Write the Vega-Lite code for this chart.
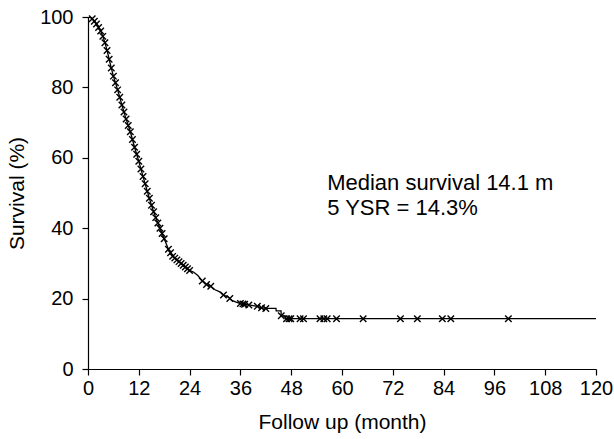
{
  "$schema": "https://vega.github.io/schema/vega-lite/v6.json",
  "autosize": "none",
  "width": 508,
  "height": 352,
  "padding": {"left": 88, "top": 17, "right": 18, "bottom": 70},
  "background": "white",
  "config": {
    "view": {"stroke": null},
    "font": "Liberation Sans",
    "axis": {
      "grid": false,
      "domainColor": "black",
      "tickColor": "black",
      "domainWidth": 1.2,
      "tickWidth": 1.2,
      "tickSize": 6,
      "labelColor": "black",
      "titleColor": "black",
      "labelFont": "Liberation Sans",
      "titleFont": "Liberation Sans",
      "labelFontSize": 20,
      "titleFontSize": 21,
      "titleFontWeight": "normal"
    }
  },
  "datasets": {
    "km": [
      {"month": 0, "survival": 100, "censored": 0},
      {"month": 0.7, "survival": 99.8, "censored": 0},
      {"month": 1, "survival": 99.5, "censored": 1},
      {"month": 1.5, "survival": 98.8, "censored": 1},
      {"month": 2, "survival": 98, "censored": 1},
      {"month": 2.5, "survival": 97, "censored": 1},
      {"month": 3, "survival": 96, "censored": 1},
      {"month": 3.5, "survival": 94.5, "censored": 1},
      {"month": 4, "survival": 92.7, "censored": 1},
      {"month": 4.5, "survival": 90.5, "censored": 1},
      {"month": 5, "survival": 88, "censored": 1},
      {"month": 5.5, "survival": 85.5, "censored": 1},
      {"month": 6, "survival": 83.2, "censored": 1},
      {"month": 6.5, "survival": 81.3, "censored": 1},
      {"month": 7, "survival": 79.3, "censored": 1},
      {"month": 7.5, "survival": 77.2, "censored": 1},
      {"month": 8, "survival": 75, "censored": 1},
      {"month": 8.5, "survival": 73, "censored": 1},
      {"month": 9, "survival": 71, "censored": 1},
      {"month": 9.5, "survival": 69.2, "censored": 1},
      {"month": 10, "survival": 67.4, "censored": 1},
      {"month": 10.5, "survival": 65.2, "censored": 1},
      {"month": 11, "survival": 63, "censored": 1},
      {"month": 11.5, "survival": 61, "censored": 1},
      {"month": 12, "survival": 59, "censored": 1},
      {"month": 12.5, "survival": 56.8, "censored": 1},
      {"month": 13, "survival": 54.7, "censored": 1},
      {"month": 13.5, "survival": 52.6, "censored": 1},
      {"month": 14, "survival": 50.5, "censored": 1},
      {"month": 14.5, "survival": 48.5, "censored": 1},
      {"month": 15, "survival": 46.5, "censored": 1},
      {"month": 15.5, "survival": 44.7, "censored": 1},
      {"month": 16, "survival": 43, "censored": 1},
      {"month": 16.5, "survival": 41.5, "censored": 1},
      {"month": 17, "survival": 40, "censored": 1},
      {"month": 17.5, "survival": 38.5, "censored": 1},
      {"month": 18, "survival": 37, "censored": 1},
      {"month": 18.5, "survival": 35.5, "censored": 0},
      {"month": 19, "survival": 34, "censored": 1},
      {"month": 19.5, "survival": 33, "censored": 1},
      {"month": 20, "survival": 32, "censored": 1},
      {"month": 20.5, "survival": 31.5, "censored": 1},
      {"month": 21, "survival": 31, "censored": 1},
      {"month": 21.5, "survival": 30.5, "censored": 1},
      {"month": 22, "survival": 30, "censored": 1},
      {"month": 22.5, "survival": 29.5, "censored": 1},
      {"month": 23, "survival": 29, "censored": 1},
      {"month": 23.5, "survival": 28.5, "censored": 1},
      {"month": 24, "survival": 28, "censored": 1},
      {"month": 25, "survival": 27.5, "censored": 0},
      {"month": 26, "survival": 26.5, "censored": 0},
      {"month": 27, "survival": 25, "censored": 1},
      {"month": 28, "survival": 24, "censored": 1},
      {"month": 29, "survival": 23.5, "censored": 1},
      {"month": 30, "survival": 22.5, "censored": 0},
      {"month": 31, "survival": 22, "censored": 0},
      {"month": 32, "survival": 21, "censored": 1},
      {"month": 33, "survival": 20.5, "censored": 0},
      {"month": 33.5, "survival": 20, "censored": 1},
      {"month": 34, "survival": 19.5, "censored": 0},
      {"month": 35, "survival": 19, "censored": 0},
      {"month": 36, "survival": 18.6, "censored": 1},
      {"month": 36.6, "survival": 18.5, "censored": 1},
      {"month": 37, "survival": 18.4, "censored": 1},
      {"month": 38, "survival": 18.2, "censored": 1},
      {"month": 39, "survival": 18, "censored": 0},
      {"month": 40, "survival": 17.8, "censored": 1},
      {"month": 41, "survival": 17.4, "censored": 1},
      {"month": 42, "survival": 17.2, "censored": 1},
      {"month": 44.4, "survival": 17.2, "censored": 0},
      {"month": 44.45, "survival": 16.5, "censored": 0},
      {"month": 45.6, "survival": 16.5, "censored": 0},
      {"month": 45.65, "survival": 15.1, "censored": 1},
      {"month": 46.6, "survival": 15.1, "censored": 0},
      {"month": 46.65, "survival": 14.3, "censored": 0},
      {"month": 46.9, "survival": 14.3, "censored": 1},
      {"month": 47.5, "survival": 14.3, "censored": 1},
      {"month": 47.9, "survival": 14.3, "censored": 1},
      {"month": 50.1, "survival": 14.3, "censored": 1},
      {"month": 50.9, "survival": 14.3, "censored": 1},
      {"month": 54.8, "survival": 14.3, "censored": 1},
      {"month": 55.7, "survival": 14.3, "censored": 1},
      {"month": 56.5, "survival": 14.3, "censored": 1},
      {"month": 58.7, "survival": 14.3, "censored": 1},
      {"month": 65, "survival": 14.3, "censored": 1},
      {"month": 73.8, "survival": 14.3, "censored": 1},
      {"month": 77.8, "survival": 14.3, "censored": 1},
      {"month": 83.7, "survival": 14.3, "censored": 1},
      {"month": 85.7, "survival": 14.3, "censored": 1},
      {"month": 99.3, "survival": 14.3, "censored": 1},
      {"month": 120, "survival": 14.3, "censored": 0}
    ],
    "notes": [
      {"month": 56.5, "survival": 52.8, "label": "Median survival 14.1 m"},
      {"month": 56.5, "survival": 45.7, "label": "5 YSR = 14.3%"}
    ]
  },
  "layer": [
    {
      "data": {"name": "km"},
      "mark": {"type": "line", "color": "black", "strokeWidth": 1.3, "clip": true},
      "encoding": {
        "x": {
          "field": "month", "type": "quantitative",
          "scale": {"domain": [0, 120], "nice": false, "zero": true},
          "axis": {"values": [0, 12, 24, 36, 48, 60, 72, 84, 96, 108, 120], "title": "Follow up (month)", "labelPadding": 3, "titlePadding": 13, "labelFlush": false}
        },
        "y": {
          "field": "survival", "type": "quantitative",
          "scale": {"domain": [0, 100], "nice": false},
          "axis": {"values": [0, 20, 40, 60, 80, 100], "title": "Survival (%)", "labelPadding": 9, "titlePadding": 12}
        }
      }
    },
    {
      "data": {"name": "km"},
      "transform": [{"filter": "datum.censored == 1"}],
      "mark": {"type": "point", "shape": "M-1,-1L1,1M-1,1L1,-1", "filled": false, "color": "black", "strokeWidth": 1.4, "size": 42, "opacity": 1},
      "encoding": {
        "x": {"field": "month", "type": "quantitative"},
        "y": {"field": "survival", "type": "quantitative"}
      }
    },
    {
      "data": {"name": "notes"},
      "mark": {"type": "text", "align": "left", "baseline": "middle", "fontSize": 22, "font": "Liberation Sans", "color": "black"},
      "encoding": {
        "x": {"field": "month", "type": "quantitative"},
        "y": {"field": "survival", "type": "quantitative"},
        "text": {"field": "label"}
      }
    }
  ]
}
